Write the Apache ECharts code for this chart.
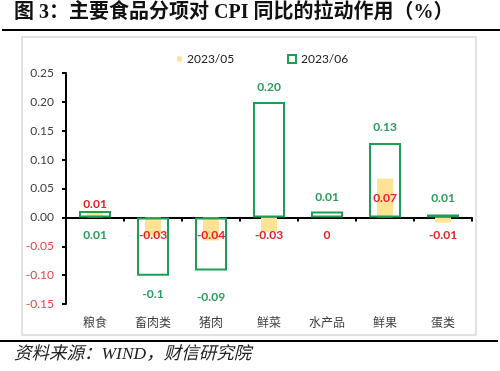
<!DOCTYPE html>
<html>
<head>
<meta charset="utf-8">
<script src="https://cdn.jsdelivr.net/npm/echarts@6/dist/echarts.min.js"></script>
<style>html,body{margin:0;padding:0;background:#fff;}#c{width:500px;height:371px;}</style>
</head>
<body>
<div id="c"></div>
<script>
const categories = ['粮食', '畜肉类', '猪肉', '鲜菜', '水产品', '鲜果', '蛋类'];
const seriesNames = ['2023/05', '2023/06'];
const may = [0.008, -0.033, -0.040, -0.025, 0, 0.067, -0.009];
const jun = [0.011, -0.101, -0.092, 0.200, 0.010, 0.129, 0.005];
const mayLabels = ['0.01', '-0.03', '-0.04', '-0.03', '0', '0.07', '-0.01'];
const junLabels = ['0.01', '-0.1', '-0.09', '0.20', '0.01', '0.13', '0.01'];
const yTicks = { min: -0.15, max: 0.25, interval: 0.05 };

const GREEN = '#1E9E55';
const GREEN_TXT = '#2A9D5C';
const ORANGE = '#FFE394';
const RED = '#E3222B';
const LBL_FONT = 'Lato, "Noto Sans", "Noto Sans CJK SC", sans-serif';

// label placement (style only)
const junLabelDist = [12, 12, 21, 9, 8, 10, 10];

const mayData = may.map((v, i) => {
  let pos, dist;
  if (v > 0.03) { pos = 'inside'; dist = 0; }
  else if (v > 0) { pos = 'top'; dist = 3; }
  else { pos = 'insideTop'; dist = 12; }
  return {
    value: v,
    label: {
      show: true, formatter: mayLabels[i], position: pos, distance: dist,
      color: RED, fontSize: 12, fontWeight: 'bold', fontFamily: LBL_FONT
    }
  };
});
const junData = jun.map((v, i) => {
  const below = (i === 0) || v < 0;
  return {
    value: v,
    label: {
      show: true, formatter: junLabels[i],
      position: below ? 'bottom' : 'top', distance: junLabelDist[i],
      color: GREEN_TXT, fontSize: 12, fontWeight: 'bold', fontFamily: LBL_FONT
    }
  };
});

const chart = echarts.init(document.getElementById('c'), null, { renderer: 'canvas' });
const option = {
  animation: false,
  backgroundColor: '#fff',
  graphic: [
    { type: 'rect', z: -10, shape: { x: 22, y: 37, width: 454, height: 298 },
      style: { fill: '#fff', stroke: '#D9D9D9', lineWidth: 1.5 } },
    { type: 'text', left: 14, top: 3, z: 10,
      style: { text: '图 3：主要食品分项对 CPI 同比的拉动作用（%）', fill: '#111',
        font: 'bold 20px "Liberation Serif", "Noto Sans CJK SC", serif' } },
    { type: 'line', z: 10, shape: { x1: 2, y1: 30, x2: 500, y2: 30 },
      style: { stroke: '#000', lineWidth: 2 } },
    { type: 'line', z: 10, shape: { x1: 0, y1: 341, x2: 498, y2: 341 },
      style: { stroke: '#000', lineWidth: 2 } },
    { type: 'text', left: 14, top: 346, z: 10,
      style: { text: '资料来源：WIND，财信研究院', fill: '#222',
        font: 'italic 17.5px "Liberation Serif", "Noto Sans CJK SC", serif' } }
  ],
  legend: [
    { data: [seriesNames[0]], left: 172, top: 48, itemWidth: 5, itemHeight: 5,
      icon: 'rect', textStyle: { fontSize: 12, color: '#222', fontFamily: LBL_FONT } },
    { data: [seriesNames[1]], left: 282, top: 48, itemWidth: 8, itemHeight: 8,
      icon: 'rect', itemStyle: { color: '#fff', borderColor: GREEN, borderWidth: 2 },
      textStyle: { fontSize: 12, color: '#222', fontFamily: LBL_FONT } }
  ],
  grid: { left: 66, right: 28, top: 73, bottom: 67, containLabel: false },
  xAxis: [
    { type: 'category', data: categories, position: 'bottom',
      axisLine: { show: false, onZero: false }, axisTick: { show: false },
      axisLabel: { margin: 12, fontSize: 12, color: '#404040', fontFamily: '"Noto Sans CJK SC", sans-serif' } },
    { type: 'category', data: categories, position: 'bottom',
      axisLine: { show: true, onZero: true, lineStyle: { color: '#000', width: 2 } },
      axisTick: { show: true, length: 4, lineStyle: { color: '#000', width: 2 } },
      axisLabel: { show: false } }
  ],
  yAxis: {
    type: 'value', min: yTicks.min, max: yTicks.max, interval: yTicks.interval,
    axisLine: { show: true, lineStyle: { color: '#000', width: 2 } },
    axisTick: { show: true, length: 4, lineStyle: { color: '#000', width: 2 } },
    splitLine: { show: false },
    axisLabel: {
      margin: 12, fontSize: 12, fontFamily: LBL_FONT,
      formatter: v => v.toFixed(2),
      color: v => (Number(v) < -1e-9 ? '#E04848' : '#404040')
    }
  },
  series: [
    { name: seriesNames[0], type: 'bar', xAxisIndex: 0, barWidth: 16, z: 2,
      itemStyle: { color: ORANGE }, data: mayData },
    { name: seriesNames[1], type: 'bar', xAxisIndex: 1, barWidth: 32, z: 3,
      itemStyle: { color: 'rgba(255,255,255,0)', borderColor: GREEN, borderWidth: 2 },
      data: junData }
  ]
};
chart.setOption(option);
</script>
</body>
</html>
